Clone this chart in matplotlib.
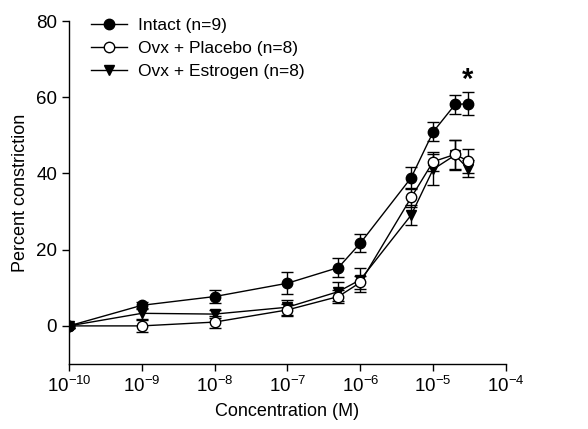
import matplotlib
matplotlib.use("Agg")
import matplotlib.pyplot as plt
from matplotlib.lines import Line2D
import numpy as np

plt.rcParams["font.family"] = ["Liberation Sans", "DejaVu Sans"]
plt.rcParams["mathtext.fontset"] = "custom"
plt.rcParams["mathtext.rm"] = "Liberation Sans"
plt.rcParams["mathtext.it"] = "Liberation Sans:italic"
plt.rcParams["mathtext.bf"] = "Liberation Sans:bold"

# concentrations (M)
conc = [1e-10, 1e-9, 1e-8, 1e-7, 5e-7, 1e-6, 5e-6, 1e-5, 2e-5, 3e-5]

intact = [0, 5.4, 7.7, 11.2, 15.3, 21.7, 38.9, 50.9, 58.1, 58.3]
intact_err = [0.5, 1.0, 1.8, 2.9, 2.6, 2.4, 2.9, 2.5, 2.4, 3.0]

placebo = [0, 0, 1.0, 4.2, 7.7, 11.4, 33.7, 43.1, 45.0, 43.3]
placebo_err = [0.5, 1.6, 1.5, 1.5, 1.8, 1.8, 2.5, 2.5, 3.9, 3.1]

estrogen = [0, 3.3, 3.1, 4.9, 9.0, 12.1, 29.1, 41.1, 44.8, 41.3]
estrogen_err = [0.5, 1.5, 1.0, 2.0, 2.4, 3.1, 2.5, 4.0, 4.0, 2.2]

labels = ["Intact (n=9)", "Ovx + Placebo (n=8)", "Ovx + Estrogen (n=8)"]
xticks = [1e-10, 1e-9, 1e-8, 1e-7, 1e-6, 1e-5, 1e-4]

fig = plt.figure(figsize=(5.88, 4.29), dpi=100)
ax = fig.add_axes([0.1173, 0.1515, 0.7432, 0.7995])

common = dict(color="black", lw=1, capsize=4.3, elinewidth=1, capthick=1, markersize=7.5)
ax.errorbar(conc, estrogen, yerr=estrogen_err, marker="v", mfc="black", mec="black",
            zorder=3, **common)
ax.errorbar(conc, placebo, yerr=placebo_err, marker="o", mfc="white", mec="black",
            zorder=4, **common)
ax.errorbar(conc, intact, yerr=intact_err, marker="o", mfc="black", mec="black",
            zorder=5, **common)

# significance marker
ax.text(3e-5, 64.5, "*", ha="center", va="center", fontsize=21, fontweight="bold")

ax.set_xscale("log")
ax.set_xlim(1e-10, 1e-4)
ax.set_ylim(-10, 80)
ax.set_xticks(xticks)
ax.set_xticklabels([r"$\mathregular{10^{%d}}$" % int(np.log10(t)) for t in xticks])
ax.xaxis.set_minor_locator(matplotlib.ticker.NullLocator())
ax.set_yticks([0, 20, 40, 60, 80])

for s in ["top", "right"]:
    ax.spines[s].set_visible(False)
for s in ["left", "bottom"]:
    ax.spines[s].set_linewidth(1)
ax.tick_params(direction="out", length=5, width=1, labelsize=13.5)

ax.set_xlabel("Concentration (M)", fontsize=13, labelpad=5)
ax.set_ylabel("Percent constriction", fontsize=13, labelpad=5)

handles = [
    Line2D([], [], color="black", lw=1, marker="o", mfc="black", mec="black", markersize=7.5),
    Line2D([], [], color="black", lw=1, marker="o", mfc="white", mec="black", markersize=7.5),
    Line2D([], [], color="black", lw=1, marker="v", mfc="black", mec="black", markersize=7.5),
]
ax.legend(handles, labels, loc="upper left", bbox_to_anchor=(0.05, 1.01), frameon=False,
          borderpad=0, borderaxespad=0, fontsize=12.5, handlelength=2.1,
          handletextpad=0.6, labelspacing=0.45)

fig.savefig("out.png", dpi=100)
